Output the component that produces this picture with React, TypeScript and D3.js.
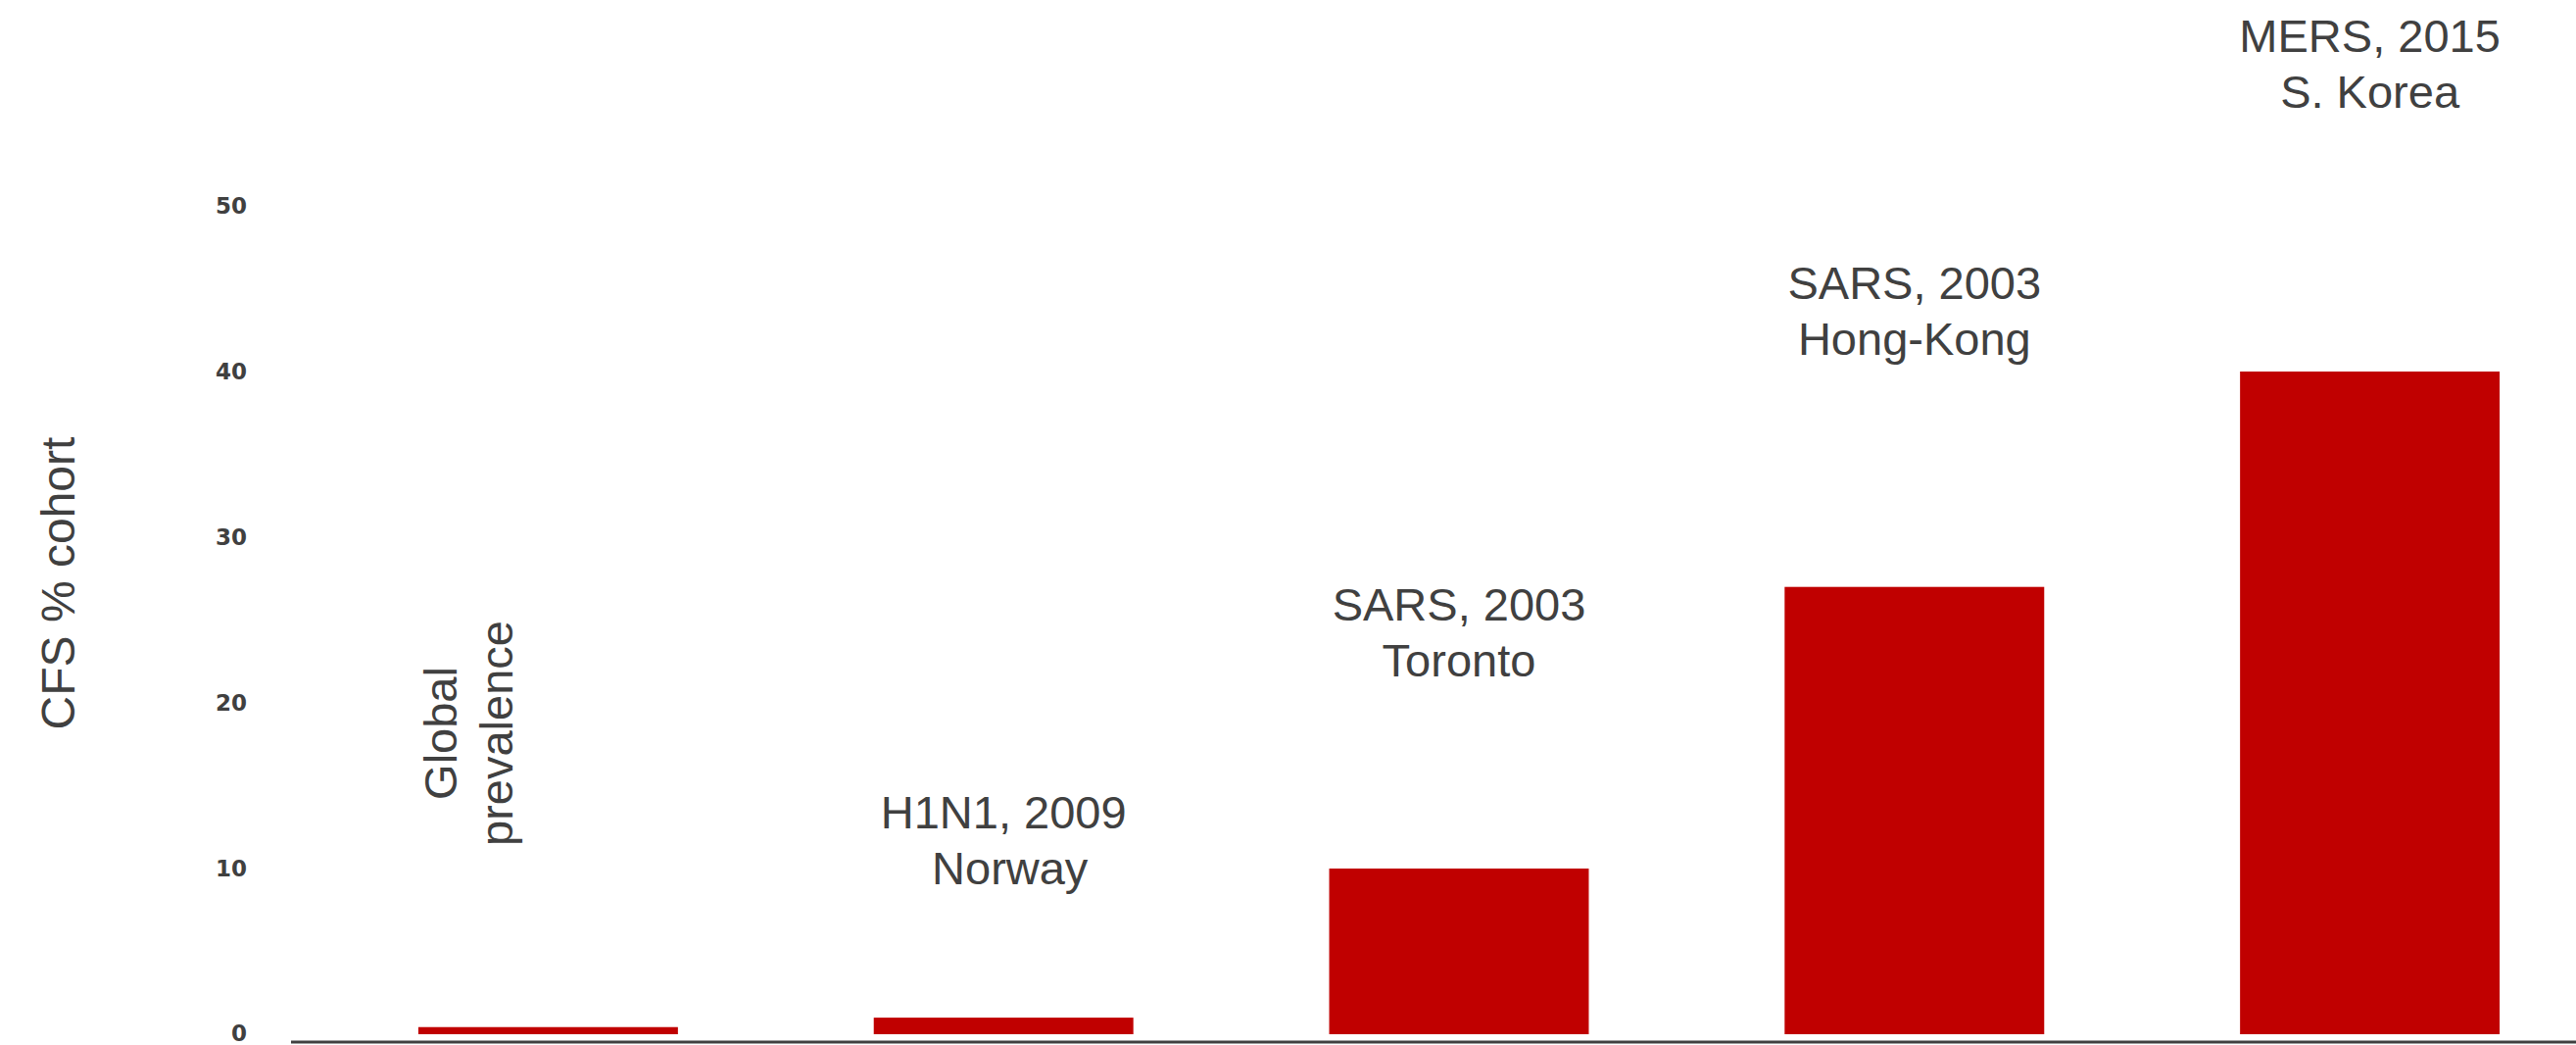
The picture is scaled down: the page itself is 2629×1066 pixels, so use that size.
import React from "react";
import * as d3 from "d3";

// chart values
const categories = ["Global prevalence", "H1N1, 2009", "SARS, 2003 Toronto", "SARS, 2003 Hong-Kong", "MERS, 2015"];
const cfsPercent = [0.43, 1.0, 10, 27, 40];
const labelLines = [
  ["Global", "prevalence"],
  ["H1N1, 2009", " Norway"],
  ["SARS, 2003", "Toronto"],
  ["SARS, 2003", "Hong-Kong"],
  ["MERS, 2015", "S. Korea"],
];
const yTicks = [0, 10, 20, 30, 40, 50];
const yTitle = "CFS % cohort";

// layout
const width = 2629;
const height = 1066;
const textColor = "#404040";
const barColor = "#c00000";
const font = "'Liberation Sans', Arial, sans-serif";
// first-line baseline of each label, in y units
const labelAt = [null, 12.4, 25.0, 44.4, 59.3];

const App = () => {
  const x = d3
    .scaleBand<string>()
    .domain(categories)
    .range([327, 2651])
    .paddingInner(0.43)
    .paddingOuter(0.215);

  const y = d3.scaleLinear().domain([0, 50]).range([1055, 210]);

  const lineGap = 57;

  return (
    <svg
      width={width}
      height={height}
      style={{ position: "absolute", left: 0, top: 0, background: "#fff" }}
    >
      {/* y axis title */}
      <text
        transform={`translate(59, 595) rotate(-90)`}
        textAnchor="middle"
        dominantBaseline="central"
        fontFamily={font}
        fontSize={48}
        fill={textColor}
      >
        {yTitle}
      </text>

      {/* y tick labels */}
      {yTicks.map((t) => (
        <text
          key={t}
          x={252}
          y={y(t)}
          dy={t === 0 ? "0.3em" : "0.36em"}
          textAnchor="end"
          fontFamily="'DejaVu Sans', sans-serif"
          fontWeight="bold"
          fontSize={23}
          fill={textColor}
        >
          {t}
        </text>
      ))}

      {/* bars */}
      {categories.map((c, i) => (
        <rect
          key={c}
          x={x(c)}
          y={y(cfsPercent[i])}
          width={x.bandwidth()}
          height={y(0) - y(cfsPercent[i])}
          fill={barColor}
        />
      ))}

      {/* baseline */}
      <line x1={297} x2={width} y1={1063} y2={1063} stroke={textColor} strokeWidth={3} />

      {/* annotations */}
      {categories.map((c, i) => {
        const cx = x(c) + x.bandwidth() / 2;
        if (labelAt[i] === null) {
          // vertical label for the first bar
          return (
            <g key={c} transform={`translate(${cx - 93}, 748) rotate(-90)`}>
              {labelLines[i].map((l, j) => (
                <text
                  key={j}
                  x={0}
                  y={j * lineGap}
                  textAnchor="middle"
                  fontFamily={font}
                  fontSize={47}
                  fill={textColor}
                >
                  {l}
                </text>
              ))}
            </g>
          );
        }
        return (
          <g key={c}>
            {labelLines[i].map((l, j) => (
              <text
                key={j}
                x={cx}
                y={y(labelAt[i]) + j * lineGap}
                textAnchor="middle"
                fontFamily={font}
                fontSize={47}
                fill={textColor}
                style={{ whiteSpace: "pre" }}
              >
                {l}
              </text>
            ))}
          </g>
        );
      })}
    </svg>
  );
};

export default App;
